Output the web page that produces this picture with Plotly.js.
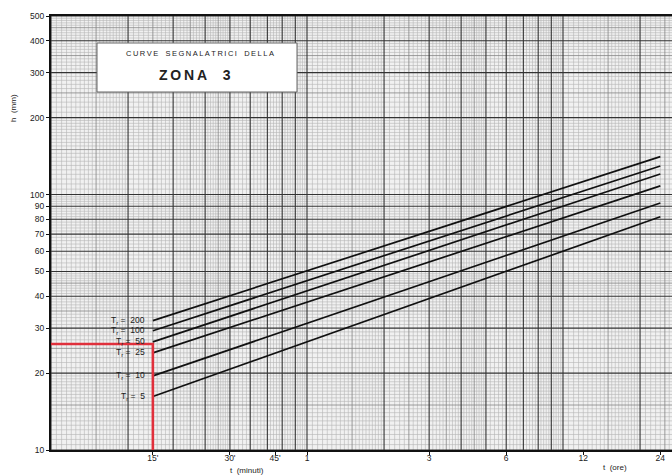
<!DOCTYPE html>
<html>
<head>
<meta charset="utf-8">
<script src="https://cdn.plot.ly/plotly-3.0.1.min.js"></script>
<style>html,body{margin:0;padding:0;background:#fff;}#chart{width:672px;height:475px;}</style>
</head>
<body>
<div id="chart"></div>
<script>
// ---- data ----
const returnPeriods = [200, 100, 50, 25, 10, 5];
const tStart = 0.25;   // hours (15')
const tEnd = 24;       // hours
const hStart = [32.1, 29.3, 26.5, 24.0, 19.5, 16.2];   // mm at 15'
const hEnd = [140.7, 129.4, 120.4, 108.1, 92.7, 81.9]; // mm at 24 h
const redT = 0.25;
const redH = 26;
const xTickVals = [0.25, 0.5, 0.75, 1, 3, 6, 12, 24];
const xTickText = ["15'", "30'", "45'", "1", "3", "6", "12", "24"];
const yTickVals = [10, 20, 30, 40, 50, 60, 70, 80, 90, 100, 200, 300, 400, 500];
const yTickText = ["10", "20", "30", "40", "50", "60", "70", "80", "90", "100", "200", "300", "400", "500"];

const xMin = 0.1, xMax = Math.pow(10, -1 + 621 / 256);
const yMin = 10, yMax = 500;

// ---- graph-paper grid (decoration) ----
function gridValues(lo, hi) {
  const minor = [], mid = [], major = [];
  for (let dec = Math.pow(10, Math.floor(Math.log10(lo))); dec <= hi; dec *= 10) {
    for (let k = 100; k < 1000; ) {
      const m = k / 100;
      const v = m * dec;
      if (v >= lo * 0.999 && v <= hi * 1.001) {
        if (k % 100 === 0) major.push(v);
        else if (k % 50 === 0) mid.push(v);
        else minor.push(v);
      }
      k += (k < 200) ? 5 : (k < 500 ? 10 : 20);
    }
  }
  return {minor, mid, major};
}
function vLines(vals) {
  const x = [], y = [];
  vals.forEach(v => { x.push(v, v, null); y.push(yMin, yMax, null); });
  return {x, y};
}
function hLines(vals) {
  const x = [], y = [];
  vals.forEach(v => { x.push(xMin, xMax, null); y.push(v, v, null); });
  return {x, y};
}
const gx = gridValues(xMin, xMax);
const gy = gridValues(yMin, yMax);
const traces = [];
const styles = [
  ['minor', '#b5b5b5', 0.6],
  ['mid', '#858585', 0.8],
  ['major', '#333333', 1.1]
];
styles.forEach(([k, c, w]) => {
  const a = vLines(gx[k]);
  const b = hLines(gy[k]);
  traces.push({x: a.x.concat(b.x), y: a.y.concat(b.y), mode: 'lines', line: {color: c, width: w},
    hoverinfo: 'skip', showlegend: false, connectgaps: false});
});

// ---- curves ----
returnPeriods.forEach((tr, i) => {
  traces.push({x: [tStart, tEnd], y: [hStart[i], hEnd[i]], mode: 'lines',
    line: {color: '#111', width: 1.7}, name: 'Tr = ' + tr, showlegend: false});
});
// red reading lines
traces.push({x: [xMin, redT, redT], y: [redH, redH, yMin], mode: 'lines',
  line: {color: '#e0303c', width: 2.6}, showlegend: false, hoverinfo: 'skip'});

const font = "Liberation Sans, Arial, sans-serif";
const annotations = returnPeriods.map((tr, i) => ({
  x: Math.log10(tStart), y: Math.log10(hStart[i]), xref: 'x', yref: 'y',
  text: 'T<sub>r</sub> =  ' + tr, showarrow: false, xanchor: 'right', yanchor: 'middle', xshift: -6,
  font: {family: font, size: 8.5, color: '#222'}
}));
function px(p) { return (p - 51) / 621; }
function py(p) { return (450 - p) / 434; }
function spaced(s) { return s.split('').map(c => c === ' ' ? '&nbsp;&nbsp;' : c).join('\u2009'); }
function ann(x, y, text, size, extra) {
  return Object.assign({x: px(x), y: py(y), xref: 'paper', yref: 'paper', text: text, showarrow: false,
    xanchor: 'center', yanchor: 'middle', font: {family: font, size: size, color: '#222'}}, extra || {});
}
annotations.push(
  ann(200, 54, spaced('CURVE SEGNALATRICI DELLA'), 7.5),
  ann(195, 75, '<b>Z\u2009O\u2009N\u2009A&nbsp;&nbsp;&nbsp;&nbsp;3</b>', 14),
  ann(14, 108, 'h  (mm)', 8, {textangle: -90}),
  ann(247, 470, 't  (minuti)', 8),
  ann(615, 468, 't  (ore)', 8)
);

const layout = {
  width: 672, height: 475,
  margin: {l: 51, r: 0, t: 16, b: 25, pad: 0},
  paper_bgcolor: '#ffffff', plot_bgcolor: '#f1f1f1',
  showlegend: false,
  xaxis: {type: 'log', range: [Math.log10(xMin), Math.log10(xMax)], tickvals: xTickVals, ticktext: xTickText,
    showgrid: false, zeroline: false, showline: true, linecolor: '#111', linewidth: 2, mirror: true,
    ticks: 'outside', ticklen: 3, tickcolor: '#111', ticklabelstandoff: -4,
    tickfont: {family: font, size: 8.5, color: '#222'}},
  yaxis: {type: 'log', range: [Math.log10(yMin), Math.log10(yMax)], tickvals: yTickVals, ticktext: yTickText,
    showgrid: false, zeroline: false, showline: true, linecolor: '#111', linewidth: 2, mirror: true,
    ticks: 'outside', ticklen: 3, tickcolor: '#111', tickfont: {family: font, size: 8.5, color: '#222'}},
  shapes: [{type: 'rect', xref: 'paper', yref: 'paper', x0: px(97), x1: px(297), y0: py(92), y1: py(43),
    fillcolor: '#ffffff', line: {color: '#666', width: 1}, layer: 'above'}],
  annotations: annotations
};
Plotly.newPlot('chart', traces, layout, {staticPlot: true, displayModeBar: false});
</script>
</body>
</html>
